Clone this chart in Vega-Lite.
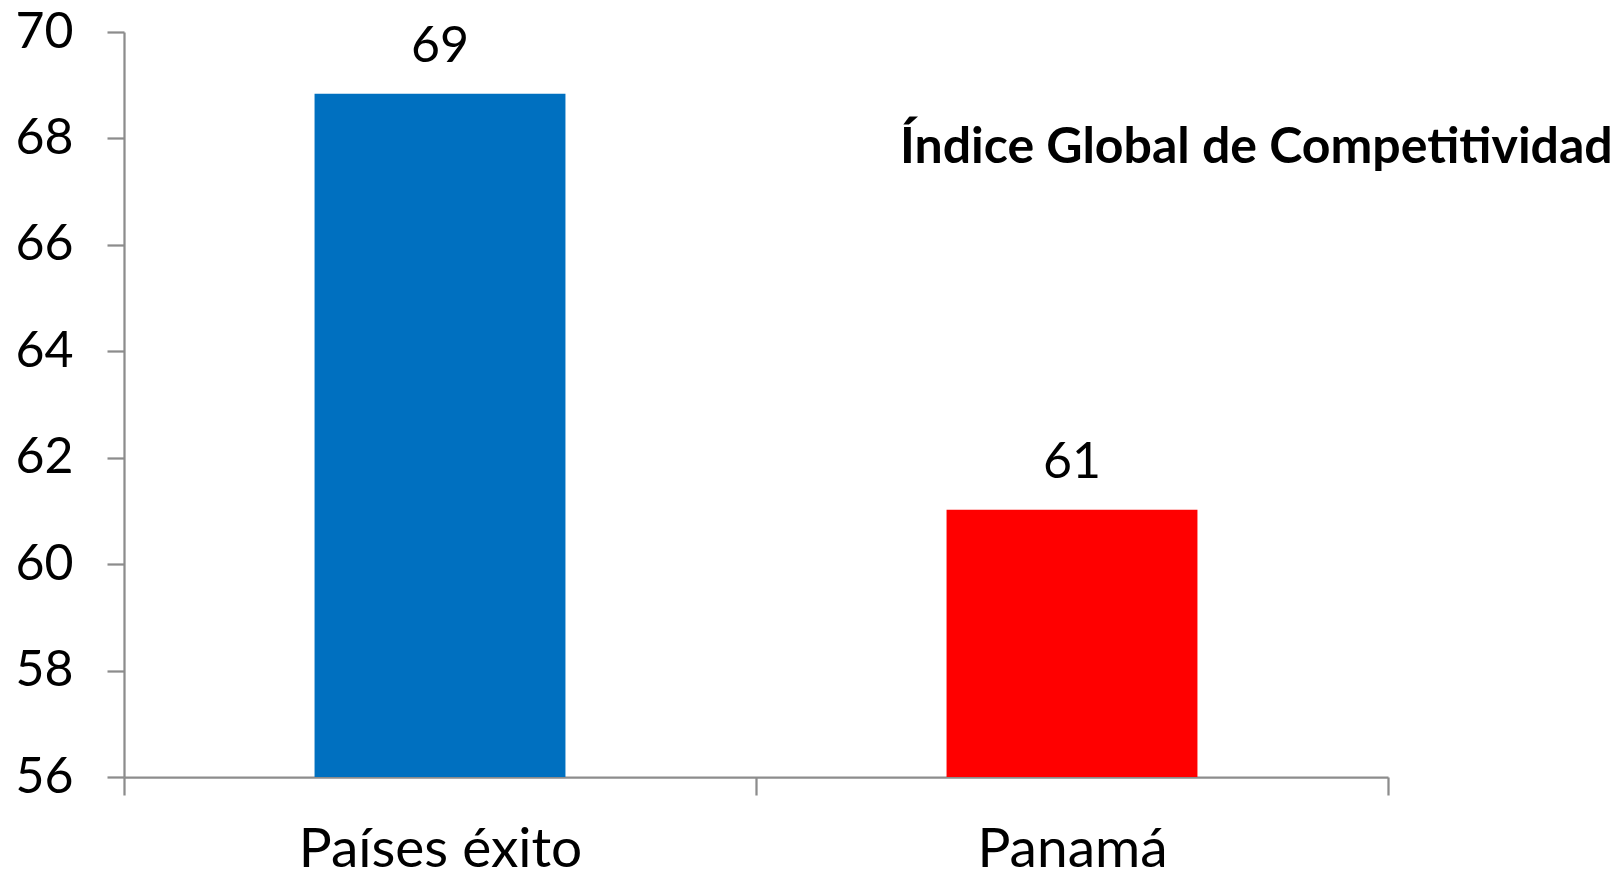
{
  "$schema": "https://vega.github.io/schema/vega-lite/v6.json",
  "autosize": "none",
  "width": 1264,
  "height": 745,
  "padding": {"left": 124, "top": 32, "right": 226, "bottom": 100},
  "background": "white",
  "title": {
    "text": "Índice Global de Competitividad",
    "anchor": "start",
    "frame": "group",
    "orient": "top",
    "dx": 776,
    "dy": 166,
    "font": "Lato",
    "fontSize": 50,
    "fontWeight": "bold",
    "color": "black",
    "offset": 0
  },
  "data": {
    "values": [
      {"categoria": "Países éxito", "valor": 68.84, "etiqueta": "69", "color": "#0070C0"},
      {"categoria": "Panamá", "valor": 61.02, "etiqueta": "61", "color": "#FF0000"}
    ]
  },
  "config": {
    "view": {"stroke": null},
    "font": "Lato"
  },
  "encoding": {
    "x": {
      "field": "categoria",
      "type": "nominal",
      "sort": null,
      "scale": {"paddingInner": 0, "paddingOuter": 0},
      "axis": {
        "title": null,
        "labelAngle": 0,
        "labelFont": "Lato",
        "labelFontSize": 55,
        "labelLimit": 0,
        "labelColor": "black",
        "labelPadding": 28,
        "labelBaseline": "top",
        "tickBand": "extent",
        "tickSize": 18,
        "tickWidth": 2.25,
        "tickColor": "#8c8c8c",
        "domainColor": "#8c8c8c",
        "domainWidth": 2.25,
        "grid": false
      }
    },
    "y": {
      "field": "valor",
      "type": "quantitative",
      "scale": {"domain": [56, 70], "nice": false, "zero": false},
      "axis": {
        "title": null,
        "values": [56, 58, 60, 62, 64, 66, 68, 70],
        "labelFont": "Lato",
        "labelFontSize": 50,
        "labelColor": "black",
        "labelPadding": 34,
        "tickSize": 17,
        "tickWidth": 2.25,
        "tickColor": "#8c8c8c",
        "domainColor": "#8c8c8c",
        "domainWidth": 2.25,
        "grid": false
      }
    }
  },
  "layer": [
    {
      "mark": {"type": "bar", "clip": true, "width": {"band": 0.397}},
      "encoding": {
        "color": {"field": "color", "type": "nominal", "scale": null, "legend": null}
      }
    },
    {
      "mark": {"type": "text", "dy": -32, "baseline": "alphabetic", "font": "Lato", "fontSize": 50, "color": "black"},
      "encoding": {
        "text": {"field": "etiqueta"}
      }
    }
  ]
}
